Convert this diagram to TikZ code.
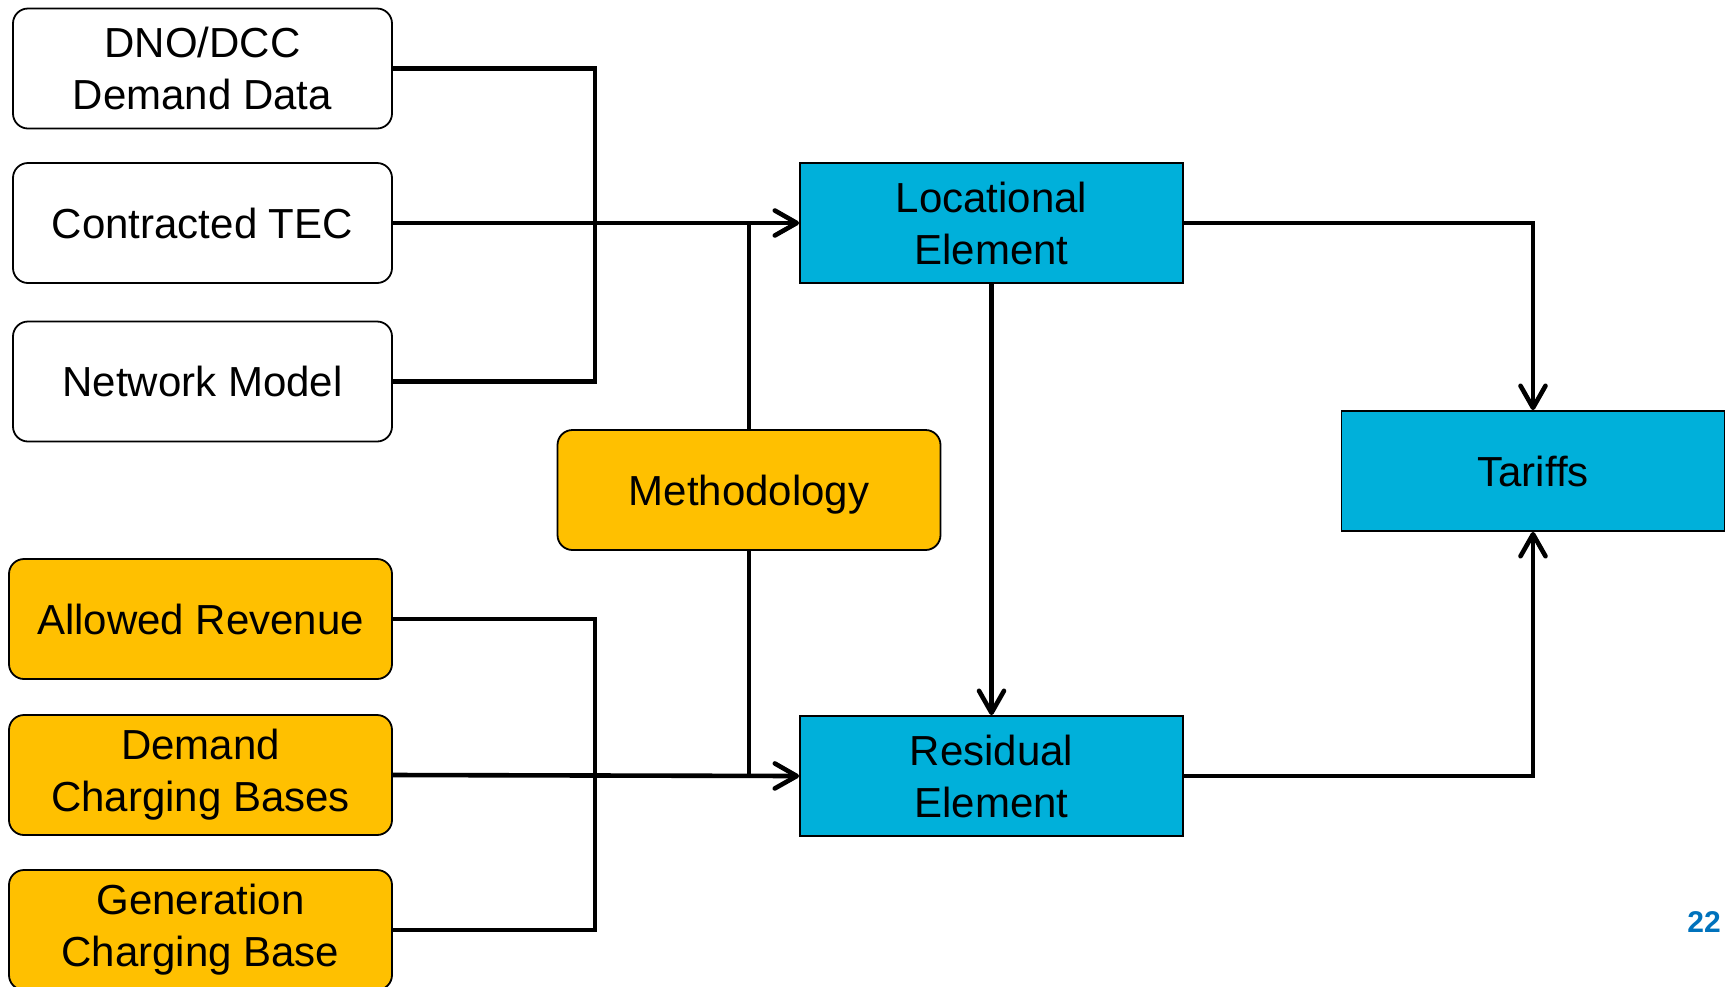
\documentclass[tikz,border=0pt]{standalone}
\usepackage{fontspec}
\setmainfont{Liberation Sans}
\usepackage{tikz}
\usetikzlibrary{arrows.meta}

\definecolor{elemblue}{HTML}{00B0DA}
\definecolor{costyellow}{HTML}{FFC000}
\definecolor{pageblue}{HTML}{0072BC}

\tikzset{
	inbox/.style={draw, line width=0.9pt, rounded corners=7.5pt, fill=white, minimum width=189.5pt, minimum height=60pt, align=center, font=\fontsize{21}{26}\selectfont, inner sep=0pt},
	costbox/.style={inbox, fill=costyellow, minimum width=191.5pt},
	elembox/.style={inbox, rounded corners=0pt, fill=elemblue, minimum width=191.5pt},
	link/.style={line width=2.3pt},
	arr/.style={link, -{Straight Barb[length=11pt, width=12.5pt, line cap=round, line join=round]}}
}

\begin{document}
\begin{tikzpicture}[x=0.5pt, y=-0.5pt]
			\useasboundingbox (0,0) rectangle (1729,986);
			\clip (0,0) rectangle (1729,986);

			\node[inbox] (dno) at (202.5,68.5) {DNO/DCC\\Demand Data};
			\node[inbox] (tec) at (202.5,223) {Contracted TEC};
			\node[inbox] (netm) at (202.5,381.5) {Network Model};

			\node[costbox] (allrev) at (200.5,619) {Allowed Revenue};
			\node[costbox] (dcb) at (200.5,775) {Demand\\Charging Bases};
			\node[costbox] (gcb) at (200.5,930) {Generation\\Charging Base};

			\node[costbox, text depth=0pt] (meth) at (749,490) {Methodology};

			\node[elembox] (loc) at (991.5,223) {Locational\\Element};
			\node[elembox] (res) at (991.5,776) {Residual\\Element};
			\node[elembox] (tariff) at (1533,471) {Tariffs};

			\coordinate (jtop) at (595,223);
			\coordinate (jbot) at (595,776);

			\draw[link] (dno.east) -| (jtop) |- (netm.east);
			\draw[arr] (tec.east) -- (loc.west);
			\draw[link] (meth.north) -- (meth.north |- loc.west);

			\draw[link] (allrev.east) -| (jbot) |- (gcb.east);
			\draw[arr] (dcb.east) -- (res.west);
			\draw[link] (meth.south) -- (meth.south |- res.west);

			\draw[arr] (loc.south) -- (res.north);
			\draw[arr] (loc.east) -| (tariff.north);
			\draw[arr] (res.east) -| (tariff.south);

			\node[text=pageblue, font=\fontsize{15}{18}\selectfont\bfseries] (pagenum) at (1704,922) {22};
		\end{tikzpicture}
\end{document}
